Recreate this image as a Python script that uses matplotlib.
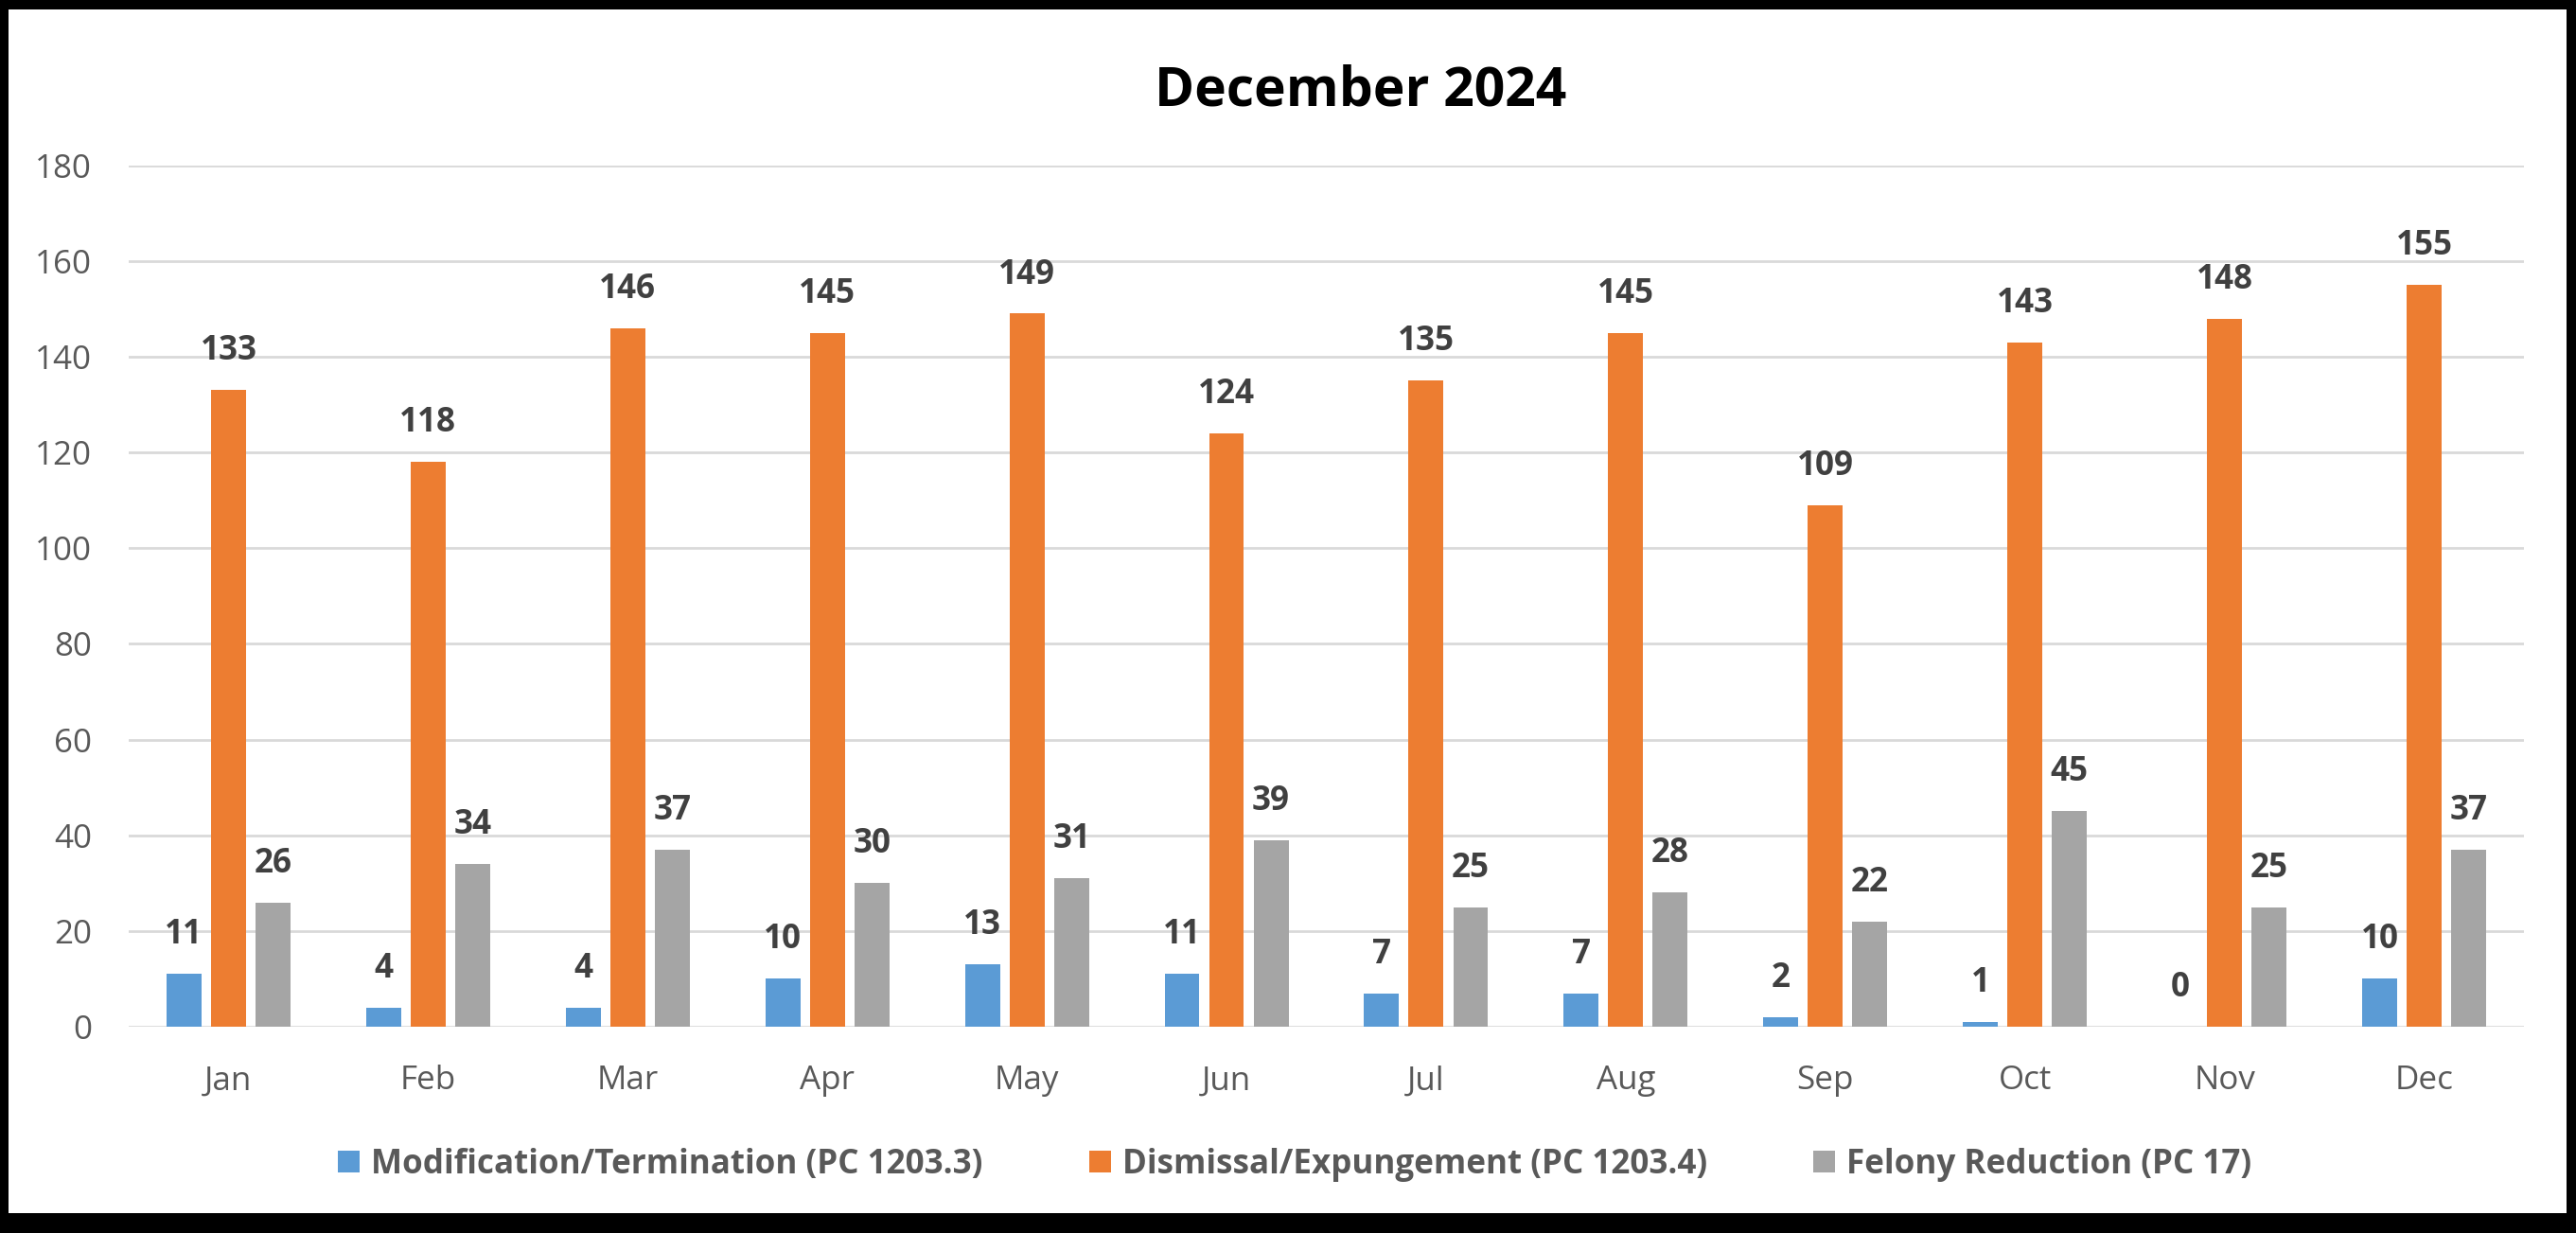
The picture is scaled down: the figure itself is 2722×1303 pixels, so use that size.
import matplotlib

matplotlib.use("Agg")
import matplotlib.pyplot as plt
from matplotlib.patches import Rectangle
import numpy as np

plt.rcParams["font.family"] = ["Open Sans", "DejaVu Sans"]

MONTHS = ["Jan", "Feb", "Mar", "Apr", "May", "Jun", "Jul", "Aug", "Sep", "Oct", "Nov", "Dec"]
MODIFICATION = [11, 4, 4, 10, 13, 11, 7, 7, 2, 1, 0, 10]
DISMISSAL = [133, 118, 146, 145, 149, 124, 135, 145, 109, 143, 148, 155]
FELONY = [26, 34, 37, 30, 31, 39, 25, 28, 22, 45, 25, 37]
SERIES = [
    ("Modification/Termination (PC 1203.3)", MODIFICATION, "#5B9BD5"),
    ("Dismissal/Expungement (PC 1203.4)", DISMISSAL, "#ED7D31"),
    ("Felony Reduction (PC 17)", FELONY, "#A5A5A5"),
]
TITLE = "December 2024"

FS = 25.2
fig = plt.figure(figsize=(27.22, 13.03), dpi=100, facecolor="black")
# white panel inside the thick black frame
fig.patches.append(Rectangle((0.0033, 0.0161), 0.99633 - 0.0033, 0.99233 - 0.0161,
                             transform=fig.transFigure, facecolor="white", edgecolor="none", zorder=-1))

ax = fig.add_axes([0.04996, 0.16731, 0.92983, 0.69862], zorder=2)
ax.set_facecolor("white")

x = np.arange(len(MONTHS))
step, w = 0.223, 0.175
handles = []
for i, (name, vals, col) in enumerate(SERIES):
    xs = x + (i - 1) * step
    b = ax.bar(xs, vals, w, color=col, label=name, zorder=2)
    handles.append(b)
    for xi, v in zip(xs, vals):
        ax.annotate(str(v), (xi, v), textcoords="offset points", xytext=(0, 23),
                    ha="center", va="baseline", fontsize=FS, fontweight="bold", color="#404040")

ax.set_xlim(-0.5, len(MONTHS) - 0.5)
ax.set_ylim(0, 180)
ax.set_yticks(range(0, 181, 20))
ax.set_xticks(x)
ax.set_xticklabels(MONTHS)
ax.tick_params(axis="both", length=0, labelsize=FS, labelcolor="#595959")
ax.tick_params(axis="x", pad=29)
ax.tick_params(axis="y", pad=28)
ax.grid(axis="y", color="#D9D9D9", linewidth=2.0, zorder=1)
ax.set_axisbelow(True)
for s in ax.spines.values():
    s.set_visible(False)

fig.text(0.528, 0.9148, TITLE, ha="center", va="baseline", fontsize=41, fontweight="bold", color="black")

leg = fig.legend(handles=handles, loc="center", bbox_to_anchor=(0.5026, 0.0553), ncol=3, frameon=False,
                 handlelength=0.66, handleheight=0.66, handletextpad=0.34, columnspacing=3.2,
                 prop={"weight": "bold", "size": FS})
for t in leg.get_texts():
    t.set_color("#595959")

fig.savefig("out.png", dpi=100, facecolor=fig.get_facecolor())
